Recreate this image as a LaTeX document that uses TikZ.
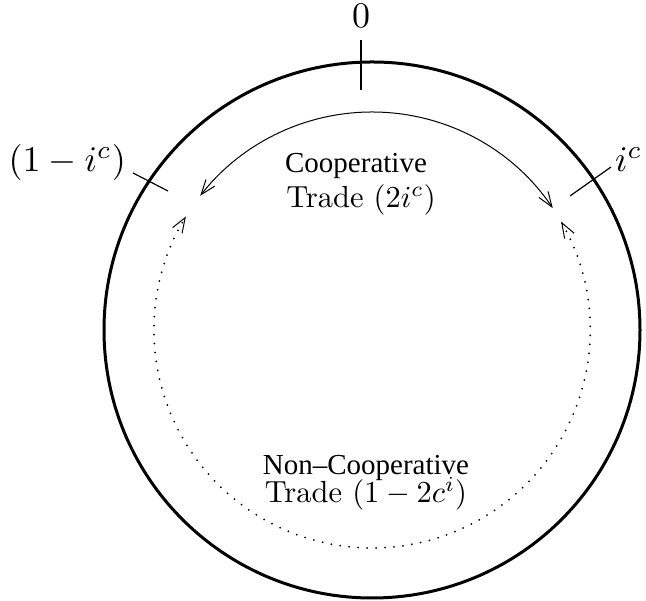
\documentclass[tikz,border=0pt]{standalone}
\usepackage{fontspec}
\newfontfamily\tms{Liberation Serif}
\usetikzlibrary{arrows.meta,calc}
\tikzset{
  ring/.style={line width=3pt},
  tickline/.style={line width=1.2pt},
  flowarc/.style={line width=1pt,{Straight Barb[length=15pt,width=11pt]}-{Straight Barb[length=15pt,width=11pt]}},
  dotarc/.style={line width=2pt,line cap=round,dash pattern=on 0pt off 9pt,{Straight Barb[length=15pt,width=11pt,line width=1pt,line cap=butt]}-{Straight Barb[length=15pt,width=11pt,line width=1pt,line cap=butt]}},
  outerlab/.style={inner sep=0pt},
  innerlab/.style={inner sep=0pt},
  tmslab/.style={inner sep=0pt,font=\tms\fontsize{29}{33}\selectfont}
}
\newcommand{\bigout}[1]{\scalebox{3.6}{#1}}
\newcommand{\bigin}[1]{\scalebox{3.05}{#1}}
\begin{document}
\begin{tikzpicture}[x=1pt,y=1pt]
\useasboundingbox (0,0) rectangle (646,601);
\coordinate (C) at (372,271);
\draw[ring] (C) circle[radius=268];
% ticks
\coordinate (t0a) at (361,561); \coordinate (t0b) at (361,511);
\coordinate (tLa) at (133,428); \coordinate (tLb) at (168,410);
\coordinate (tRa) at (570,405); \coordinate (tRb) at (611,434);
\draw[tickline] (t0a) -- (t0b);
\draw[tickline] (tLa) -- (tLb);
\draw[tickline] (tRa) -- (tRb);
% arcs
\draw[flowarc] ($(C)+(34:218)$) arc[start angle=34,end angle=142,radius=218];
\draw[dotarc] ($(C)+(29.8:218)$) arc[start angle=29.8,end angle=-211.4,radius=218];
% labels
\node[outerlab,anchor=base] (zero) at (361,573) {\bigout{$0$}};
\node[outerlab,anchor=base east] (oneminus) at (126,429) {\bigout{$(1-i^c)$}};
\node[outerlab,anchor=base west] (ic) at (615,429) {\bigout{$i^c$}};
\node[tmslab,anchor=base] (coop) at (356,428) {Cooperative};
\node[innerlab,anchor=base] (coopt) at (361,393) {\bigin{Trade $(2i^c)$}};
\node[tmslab,anchor=base] (ncoop) at (366,126) {Non–Cooperative};
\node[innerlab,anchor=base] (ncoopt) at (366,98) {\bigin{Trade $(1-2c^i)$}};
\end{tikzpicture}
\end{document}
